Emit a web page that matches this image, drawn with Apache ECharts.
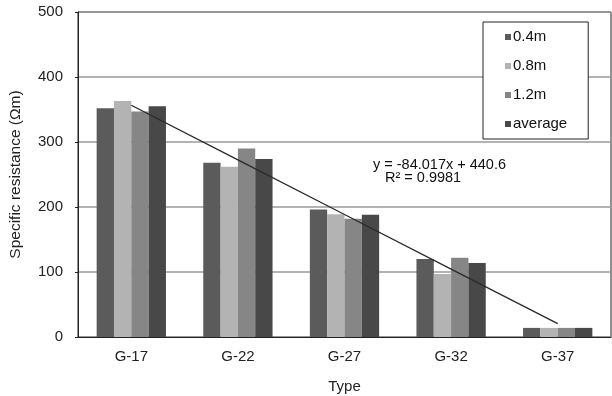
<!DOCTYPE html>
<html><head><meta charset="utf-8">
<script src="https://cdn.jsdelivr.net/npm/echarts@6/dist/echarts.min.js"></script>
<style>html,body{margin:0;padding:0;background:#fff}#c{width:612px;height:396px}</style>
</head><body><div id="c"></div>
<script>
const categories = ['G-17','G-22','G-27','G-32','G-37'];
const s04 = [352, 268, 196, 120, 14];
const s08 = [363, 262, 189, 97, 14];
const s12 = [347, 290, 182, 122, 14];
const sAvg = [355, 274, 188, 114, 14];
const trend = [356.6, 272.6, 188.5, 104.5, 20.5];
const yTicks = [0, 100, 200, 300, 400, 500];
const seriesNames = ['0.4m','0.8m','1.2m','average'];
const colors = ['#5b5b5b','#b3b3b3','#868686','#484848'];
const F = 'Liberation Sans, Arial, sans-serif';
const chart = echarts.init(document.getElementById('c'));
const bars = [s04, s08, s12, sAvg].map((d, i) => ({
  name: seriesNames[i], type: 'bar', data: d, barGap: '0%', barCategoryGap: '35%',
  itemStyle: { color: colors[i] }, z: 2
}));
chart.setOption({
  animation: false,
  textStyle: { fontFamily: F },
  grid: { left: 78, right: 1, top: 12, bottom: 59, show: true, borderColor: '#222', borderWidth: 1,
    containLabel: false, outerBoundsMode: 'none' },
  legend: {
    data: seriesNames, orient: 'vertical', left: 483, top: 22,
    padding: [6, 21, 6, 22], itemGap: 11, itemWidth: 6, itemHeight: 6, icon: 'rect',
    backgroundColor: '#fff', borderColor: '#222', borderWidth: 1, borderRadius: 0,
    textStyle: { fontFamily: F, fontSize: 15, color: '#111', lineHeight: 18, padding: [0,0,0,-3] }
  },
  xAxis: {
    type: 'category', data: categories, name: 'Type', nameLocation: 'middle', nameGap: 42,
    nameTextStyle: { fontFamily: F, fontSize: 15, color: '#222' },
    axisLine: { lineStyle: { color: '#222' } },
    axisTick: { inside: true, length: 5, lineStyle: { color: '#222' } },
    axisLabel: { fontFamily: F, fontSize: 15, color: '#222', margin: 12 }
  },
  yAxis: {
    type: 'value', min: 0, max: 500, interval: 100,
    name: 'Specific resistance (\u03A9m)', nameLocation: 'middle', nameGap: 54,
    nameTextStyle: { fontFamily: F, fontSize: 15.5, color: '#222' },
    axisLine: { show: true, lineStyle: { color: '#222' } },
    axisTick: { show: true, length: 3, lineStyle: { color: '#222' } },
    axisLabel: { fontFamily: F, fontSize: 15, color: '#222', margin: 15,
      formatter: v => yTicks.includes(v) ? String(v) : '' },
    splitLine: { lineStyle: { color: '#9a9a9a', width: 1.5 } }
  },
  series: bars.concat([{
    name: 'trend', type: 'line', data: trend, symbol: 'none', z: 5,
    lineStyle: { color: '#2a2a2a', width: 1.3 }
  }]),
  graphic: [
    { type: 'text', left: 373, top: 157, style: { text: 'y = -84.017x + 440.6', font: '14.5px ' + F, fill: '#111' }, z: 10 },
    { type: 'text', left: 385, top: 170, style: { text: 'R\u00B2 = 0.9981', font: '14.5px ' + F, fill: '#111' }, z: 10 }
  ]
});
</script></body></html>
